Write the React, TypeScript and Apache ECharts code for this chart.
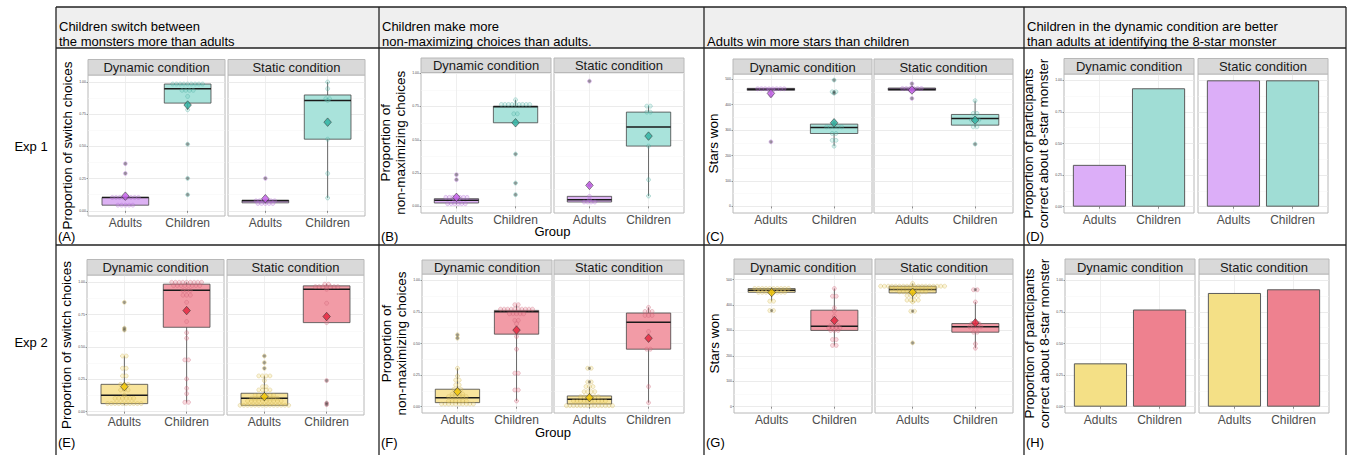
import React, { useEffect, useRef } from "react";
import * as echarts from "echarts";

const FONT = "'Liberation Sans', Arial, Helvetica, sans-serif";

// ---------- texts ----------
const groups = ["Adults", "Children"];
const conditions = ["Dynamic condition", "Static condition"];
const experiments = ["Exp 1", "Exp 2"];
const headerLines = [
  ["Children switch between", "the monsters more than adults"],
  ["Children make more", "non-maximizing choices than adults."],
  ["", "Adults win more stars than children"],
  ["Children in the dynamic condition are better", "than adults at identifying the 8-star monster"],
];
const panelLetters = ["(A)", "(B)", "(C)", "(D)", "(E)", "(F)", "(G)", "(H)"];
const yTitles = [
  "Proportion of switch choices",
  "Proportion of\nnon-maximizing choices",
  "Stars won",
  "Proportion of participants\ncorrect about 8-star monster",
];
const xTitle = "Group";

// ---------- tick values ----------
const propTicks = [0, 0.25, 0.5, 0.75, 1];
const propMinorTicks = [0.125, 0.375, 0.625, 0.875];
const starTicks = [0, 100, 200, 300, 400, 500];
const starMinorTicks = [50, 150, 250, 350, 450];

// ---------- data ----------
// boxes: [min, Q1, median, Q3, max] for [Adults, Children]
// dots: [value, number of participants at that value]
// (A) Exp 1, proportion of switch choices
const aDynBox = [[0.044, 0.044, 0.104, 0.104, 0.104], [0.784, 0.836, 0.948, 0.984, 0.984]];
const aDynMean = [0.114, 0.821];
const aDynDotsAdults = [[0.104, 8], [0.044, 5], [0.29, 1], [0.366, 1]];
const aDynDotsChildren = [[0.984, 9], [0.935, 4], [0.888, 1], [0.823, 1], [0.784, 1], [0.517, 1], [0.252, 1], [0.125, 1]];
const aStatBox = [[0.057, 0.062, 0.078, 0.083, 0.083], [0.1, 0.556, 0.857, 0.899, 1.0]];
const aStatMean = [0.094, 0.688];
const aStatDotsAdults = [[0.078, 6], [0.057, 5], [0.252, 1]];
const aStatDotsChildren = [[1.0, 1], [0.948, 1], [0.87, 2], [0.857, 1], [0.688, 1], [0.556, 1], [0.29, 1], [0.1, 1]];

// (B) Exp 1, proportion of non-maximizing choices
const bDynBox = [[0.02, 0.025, 0.045, 0.0575, 0.0675], [0.6275, 0.6275, 0.7475, 0.7525, 0.8]];
const bDynMean = [0.0675, 0.6275];
const bDynDotsAdults = [[0.0675, 7], [0.045, 2], [0.02, 6], [0.2, 1], [0.2375, 1]];
const bDynDotsChildren = [[0.8, 1], [0.765, 9], [0.695, 2], [0.6275, 1], [0.3925, 1], [0.175, 1], [0.0875, 1]];
const bStatBox = [[0.0325, 0.0325, 0.05, 0.075, 0.075], [0.0775, 0.4525, 0.595, 0.7075, 0.7525]];
const bStatMean = [0.1575, 0.5275];
const bStatDotsAdults = [[0.94, 1], [0.16, 1], [0.075, 1], [0.05, 1], [0.0325, 4]];
const bStatDotsChildren = [[0.7525, 2], [0.7075, 2], [0.52, 1], [0.4525, 1], [0.2, 1], [0.0775, 1]];

// (C) Exp 1, stars won
const cDynBox = [[436, 456.6, 460.5, 464.5, 464.5], [237, 286.8, 310.5, 323.7, 323.7]];
const cDynMean = [444.7, 329];
const cDynDotsAdults = [[463, 8], [457, 2], [436, 1], [254, 1]];
const cDynDotsChildren = [[497, 1], [451, 2], [445, 1], [329, 1], [313, 5], [287, 2], [260, 2], [237, 1]];
const cStatBox = [[456.6, 456.6, 460.5, 465.8, 465.8], [313, 319.7, 346, 361.8, 416]];
const cStatMean = [458, 339.5];
const cStatDotsAdults = [[483, 1], [464, 6], [457, 2], [425, 1]];
const cStatDotsChildren = [[416, 1], [366, 2], [340, 3], [313, 2], [245, 1]];

// (D) Exp 1, proportion correct about 8-star monster
const dDynBars = [0.331, 0.937];
const dStatBars = [1.0, 1.0];

// (E) Exp 2, proportion of switch choices
const eDynBox = [[0.049, 0.062, 0.126, 0.211, 0.43], [0.072, 0.652, 0.938, 0.985, 1.0]];
const eDynMean = [0.193, 0.781];
const eDynDotsAdults = [[0.845, 1], [0.645, 1], [0.63, 1], [0.43, 2], [0.335, 2], [0.276, 2], [0.211, 3], [0.167, 3], [0.126, 1], [0.103, 6], [0.062, 10]];
const eDynDotsChildren = [[1.0, 9], [0.974, 8], [0.936, 3], [0.9, 3], [0.845, 1], [0.696, 1], [0.61, 1], [0.567, 1], [0.4, 2], [0.253, 1], [0.18, 1], [0.139, 1], [0.072, 2]];
const eStatBox = [[0.049, 0.049, 0.103, 0.142, 0.276], [0.688, 0.688, 0.946, 0.972, 0.985]];
const eStatMean = [0.116, 0.735];
const eStatDotsAdults = [[0.43, 1], [0.379, 1], [0.335, 1], [0.276, 4], [0.24, 1], [0.193, 2], [0.168, 4], [0.124, 6], [0.103, 8], [0.082, 10], [0.049, 14]];
const eStatDotsChildren = [[0.985, 2], [0.966, 7], [0.946, 1], [0.838, 1], [0.688, 1], [0.24, 1], [0.067, 1], [0.054, 1]];

// (F) Exp 2, proportion of non-maximizing choices
const fDynBox = [[0.021, 0.032, 0.071, 0.138, 0.304], [0.045, 0.574, 0.751, 0.762, 0.807]];
const fDynMean = [0.119, 0.606];
const fDynDotsAdults = [[0.569, 1], [0.542, 1], [0.304, 1], [0.243, 1], [0.21, 2], [0.172, 2], [0.138, 3], [0.1, 4], [0.079, 6], [0.045, 6], [0.021, 10]];
const fDynDotsChildren = [[0.807, 2], [0.772, 10], [0.735, 5], [0.683, 2], [0.656, 1], [0.556, 1], [0.455, 1], [0.265, 2], [0.132, 2], [0.045, 1]];
const fStatBox = [[0.008, 0.021, 0.058, 0.085, 0.159], [0.032, 0.455, 0.669, 0.741, 0.786]];
const fStatMean = [0.071, 0.542];
const fStatDotsAdults = [[0.304, 2], [0.196, 2], [0.159, 3], [0.119, 4], [0.079, 6], [0.045, 10], [0.008, 14]];
const fStatDotsChildren = [[0.786, 1], [0.754, 3], [0.722, 3], [0.595, 1], [0.455, 2], [0.159, 1], [0.032, 1]];

// (G) Exp 2, stars won
const gDynBox = [[415, 450, 458, 464.7, 470], [241, 300, 316.8, 379.6, 465]];
const gDynMean = [449, 339];
const gDynDotsAdults = [[465, 10], [450, 8], [415, 2], [378, 2]];
const gDynDotsChildren = [[465, 1], [434.6, 2], [388.7, 1], [375.7, 1], [356, 1], [340, 1], [319, 3], [310, 4], [300, 3], [264, 2], [241, 2]];
const gStatBox = [[412, 447.6, 460.7, 473.8, 485], [230, 293, 314, 327, 412]];
const gStatMean = [450, 329.8];
const gStatDotsAdults = [[485, 1], [474, 18], [463, 12], [452, 8], [437, 4], [419, 4], [412, 1], [375.6, 2], [251, 1]];
const gStatDotsChildren = [[460, 2], [412, 1], [327, 3], [314, 4], [293, 2], [247, 1], [230, 1]];

// (H) Exp 2, proportion correct about 8-star monster
const hDynBars = [0.343, 0.769];
const hStatBars = [0.9, 0.929];

// ---------- styles ----------
const palette = [
  [
    { box: "#dcb1f3", dotFill: "rgba(205,140,235,0.35)", dotStroke: "rgba(165,95,205,0.6)", mean: "#c35ce8", bar: "#dcaef8" },
    { box: "#a9e3db", dotFill: "rgba(110,205,190,0.3)", dotStroke: "rgba(60,160,150,0.6)", mean: "#2fb3a3", bar: "#a0ddd5" },
  ],
  [
    { box: "#f8e49c", dotFill: "rgba(240,215,110,0.35)", dotStroke: "rgba(195,165,70,0.6)", mean: "#f2c500", bar: "#f4e086" },
    { box: "#f29ba6", dotFill: "rgba(235,125,145,0.35)", dotStroke: "rgba(195,90,110,0.6)", mean: "#e3213a", bar: "#ee818f" },
  ],
];

const panels = [
  { scale: "prop", facets: [
    { box: aDynBox, mean: aDynMean, dots: [aDynDotsAdults, aDynDotsChildren] },
    { box: aStatBox, mean: aStatMean, dots: [aStatDotsAdults, aStatDotsChildren] } ] },
  { scale: "prop", facets: [
    { box: bDynBox, mean: bDynMean, dots: [bDynDotsAdults, bDynDotsChildren] },
    { box: bStatBox, mean: bStatMean, dots: [bStatDotsAdults, bStatDotsChildren] } ] },
  { scale: "stars", facets: [
    { box: cDynBox, mean: cDynMean, dots: [cDynDotsAdults, cDynDotsChildren] },
    { box: cStatBox, mean: cStatMean, dots: [cStatDotsAdults, cStatDotsChildren] } ] },
  { scale: "prop", facets: [{ bars: dDynBars }, { bars: dStatBars }] },
  { scale: "prop", facets: [
    { box: eDynBox, mean: eDynMean, dots: [eDynDotsAdults, eDynDotsChildren] },
    { box: eStatBox, mean: eStatMean, dots: [eStatDotsAdults, eStatDotsChildren] } ] },
  { scale: "prop", facets: [
    { box: fDynBox, mean: fDynMean, dots: [fDynDotsAdults, fDynDotsChildren] },
    { box: fStatBox, mean: fStatMean, dots: [fStatDotsAdults, fStatDotsChildren] } ] },
  { scale: "stars", facets: [
    { box: gDynBox, mean: gDynMean, dots: [gDynDotsAdults, gDynDotsChildren] },
    { box: gStatBox, mean: gStatMean, dots: [gStatDotsAdults, gStatDotsChildren] } ] },
  { scale: "prop", facets: [{ bars: hDynBars }, { bars: hStatBars }] },
];

// ---------- layout ----------
const layouts = [
  { lefts: [88, 228], w: 137, top: 75, h: 141, stripTop: 59.5, yMin: -0.04, yMax: 1.054, gap: 11 },
  { lefts: [421, 554], w: 130, top: 72.5, h: 140.5, stripTop: 58, yMin: -0.05, yMax: 1.005, gap: 8 },
  { lefts: [733, 874], w: 139, top: 74, h: 139, stripTop: 59, yMin: -26, yMax: 521, gap: 8 },
  { lefts: [1064, 1198], w: 130, top: 74, h: 139, stripTop: 58.5, yMin: -0.05, yMax: 1.05, gap: 5.5 },
  { lefts: [87, 227], w: 137, top: 275, h: 140, stripTop: 259.5, yMin: -0.026, yMax: 1.056, gap: 11.5 },
  { lefts: [422, 554], w: 130, top: 274, h: 139, stripTop: 260, yMin: -0.05, yMax: 1.05, gap: 9.5 },
  { lefts: [734, 875], w: 138, top: 274, h: 139, stripTop: 259, yMin: -25, yMax: 522, gap: 8.5 },
  { lefts: [1065, 1199], w: 130, top: 274, h: 139, stripTop: 259, yMin: -0.05, yMax: 1.05, gap: 7.5 },
];
const colX = [56, 379, 704, 1024, 1346];
const tableTop = 7;
const headerBottom = 48;
const rowDivider = 245;
const tableBottom = 455;
const letterY = [236, 442];
const groupTitleY = [231, 432];

const DOT_STEP = 0.06;
const BOX_HALF = 0.375;

function dotPositions(rows: number[][], x: number) {
  const out: number[][] = [];
  rows.forEach(([v, n]) => {
    for (let i = 0; i < n; i++) out.push([x + (i - (n - 1) / 2) * DOT_STEP, v]);
  });
  return out;
}

function text(x: number, y: number, str: string, size: number, opts: any = {}) {
  return {
    type: "text",
    z: 20,
    style: {
      x, y, text: str,
      fontSize: size, fontFamily: FONT,
      fill: opts.fill || "#000",
      align: opts.align || "left", textAlign: opts.align || "left",
      verticalAlign: "middle", textVerticalAlign: "middle",
    },
  };
}

function buildOption() {
  const grids: any[] = [];
  const xAxes: any[] = [];
  const yAxes: any[] = [];
  const series: any[] = [];
  const graphics: any[] = [];

  // table
  graphics.push({ type: "rect", z: 0, shape: { x: colX[0], y: tableTop, width: colX[4] - colX[0], height: headerBottom - tableTop }, style: { fill: "#efefef" } });
  const lineStyle = { stroke: "#222", lineWidth: 1.3 };
  [tableTop, headerBottom, rowDivider].forEach((y) =>
    graphics.push({ type: "line", z: 1, shape: { x1: colX[0], y1: y, x2: colX[4], y2: y }, style: lineStyle }));
  colX.forEach((x) =>
    graphics.push({ type: "line", z: 1, shape: { x1: x, y1: tableTop, x2: x, y2: tableBottom }, style: lineStyle }));
  headerLines.forEach((lines, c) => {
    lines.forEach((ln, k) => { if (ln) graphics.push(text(colX[c] + 3, k === 0 ? 26 : 41, ln, 13)); });
  });
  experiments.forEach((e, r) => graphics.push(text(31, r === 0 ? 146 : 342, e, 13, { align: "center" })));

  panels.forEach((p, pi) => {
    const L = layouts[pi];
    const col = pi % 4;
    const row = Math.floor(pi / 4);
    const pal = palette[row];
    const ticks = p.scale === "stars" ? starTicks : propTicks;
    const minor = p.scale === "stars" ? starMinorTicks : propMinorTicks;

    graphics.push(text(colX[col] + 2, letterY[row], panelLetters[pi], 13));
    if (col === 1) graphics.push(text(L.lefts[0] + (L.lefts[1] + L.w - L.lefts[0]) / 2, groupTitleY[row], xTitle, 13, { align: "center" }));

    p.facets.forEach((f: any, fi: number) => {
      const g = grids.length;
      const left = L.lefts[fi];
      grids.push({ left, top: L.top, width: L.w, height: L.h, show: true, borderColor: "#b8b8b8", borderWidth: 1, backgroundColor: "#fff" });
      xAxes.push({
        type: "value", gridIndex: g, min: 0.4, max: 2.6,
        axisLine: { show: false },
        axisTick: { show: true, length: 2, customValues: [1, 2], lineStyle: { color: "#444", width: 0.6 } },
        axisLabel: { customValues: [1, 2], formatter: (v: number) => groups[Math.round(v) - 1], fontSize: 12, fontFamily: FONT, color: "#4d4d4d", margin: 1 },
        splitLine: { show: true, lineStyle: { color: "#ebebeb", width: 0.8 } },
      });
      const first = fi === 0;
      yAxes.push({
        type: "value", gridIndex: g, min: L.yMin, max: L.yMax, position: "left",
        axisLine: { show: false },
        axisTick: { show: first, length: 1.5, customValues: ticks, lineStyle: { color: "#444", width: 0.5 } },
        axisLabel: {
          show: first, customValues: ticks, fontSize: 3.5, fontFamily: FONT, color: "#4d4d4d", margin: 2,
          formatter: (v: number) => (p.scale === "stars" ? String(v) : v.toFixed(2)),
        },
        splitLine: { show: true, lineStyle: { color: "#e6e6e6", width: 0.8 } },
        name: first ? yTitles[col] : "",
        nameLocation: "middle", nameRotate: 90, nameGap: L.gap,
        nameTextStyle: { fontSize: 13.5, fontFamily: FONT, color: "#000", lineHeight: 15 },
      });
      yAxes.push({
        type: "value", gridIndex: g, min: L.yMin, max: L.yMax, position: "left",
        axisLine: { show: false },
        axisTick: { show: false, customValues: minor },
        axisLabel: { show: false, customValues: minor },
        splitLine: { show: true, lineStyle: { color: "#f4f4f4", width: 0.5 } },
      });
      const yIdx = 2 * g;

      // strip
      graphics.push({ type: "rect", z: 10, shape: { x: left, y: L.stripTop, width: L.w, height: L.top - L.stripTop }, style: { fill: "#d9d9d9", stroke: "#b8b8b8", lineWidth: 1 } });
      graphics.push({ ...text(left + L.w / 2, (L.stripTop + L.top) / 2 + 0.5, conditions[fi], 13, { align: "center", fill: "#1a1a1a" }), z: 11 });

      if (f.bars) {
        series.push({
          type: "bar", xAxisIndex: g, yAxisIndex: yIdx, barWidth: (0.9 * L.w) / 2.2, z: 3,
          data: f.bars.map((v: number, i: number) => ({
            value: [i + 1, v],
            itemStyle: { color: pal[i].bar, borderColor: "#5a5a5a", borderWidth: 1 },
          })),
        });
        return;
      }

      series.push({
        type: "custom", xAxisIndex: g, yAxisIndex: yIdx, z: 3, clip: false,
        encode: { x: 0, y: [1, 2, 3, 4, 5] },
        data: f.box.map((b: number[], i: number) => [i + 1, ...b]),
        renderItem: (params: any, api: any) => {
          const x = api.value(0);
          const v = [1, 2, 3, 4, 5].map((k) => api.value(k));
          const c = (val: number) => api.coord([x, val]);
          const pMin = c(v[0]), pQ1 = c(v[1]), pMed = c(v[2]), pQ3 = c(v[3]), pMax = c(v[4]);
          const xl = api.coord([x - BOX_HALF, v[2]])[0];
          const xr = api.coord([x + BOX_HALF, v[2]])[0];
          const stroke = "rgba(70,70,70,0.8)";
          return {
            type: "group",
            children: [
              { type: "line", shape: { x1: pMin[0], y1: pMin[1], x2: pQ1[0], y2: pQ1[1] }, style: { stroke, lineWidth: 1 } },
              { type: "line", shape: { x1: pQ3[0], y1: pQ3[1], x2: pMax[0], y2: pMax[1] }, style: { stroke, lineWidth: 1 } },
              { type: "rect", shape: { x: xl, y: pQ3[1], width: xr - xl, height: Math.max(pQ1[1] - pQ3[1], 0.5) }, style: { fill: pal[x - 1].box, stroke, lineWidth: 1 } },
              { type: "line", shape: { x1: xl, y1: pMed[1], x2: xr, y2: pMed[1] }, style: { stroke: "#1a1a1a", lineWidth: 1.5 } },
            ],
          };
        },
      });

      f.dots.forEach((rows: number[][], gi: number) => {
        series.push({
          type: "scatter", xAxisIndex: g, yAxisIndex: yIdx, z: 4, symbol: "circle", symbolSize: 4,
          itemStyle: { color: pal[gi].dotFill, borderColor: pal[gi].dotStroke, borderWidth: 0.6 },
          data: dotPositions(rows, gi + 1),
        });
        const lo = f.box[gi][0], hi = f.box[gi][4];
        series.push({
          type: "scatter", xAxisIndex: g, yAxisIndex: yIdx, z: 5, symbol: "circle", symbolSize: 3.2,
          itemStyle: { color: "rgba(45,45,45,0.55)" },
          data: rows.filter(([v]) => v < lo || v > hi).map(([v]) => [gi + 1, v]),
        });
      });

      series.push({
        type: "scatter", xAxisIndex: g, yAxisIndex: yIdx, z: 6, symbol: "diamond", symbolSize: [7.5, 8.5],
        data: f.mean.map((m: number, i: number) => ({
          value: [i + 1, m],
          itemStyle: { color: pal[i].mean, borderColor: "#333", borderWidth: 0.7 },
        })),
      });
    });
  });

  return {
    animation: false,
    backgroundColor: "#fff",
    textStyle: { fontFamily: FONT },
    grid: grids,
    xAxis: xAxes,
    yAxis: yAxes,
    series,
    graphic: { elements: graphics },
  };
}

export default function App() {
  const ref = useRef<HTMLDivElement>(null);
  useEffect(() => {
    const chart = echarts.init(ref.current as HTMLDivElement, undefined, { renderer: "svg" });
    chart.setOption(buildOption() as any);
    return () => chart.dispose();
  }, []);
  return (
    <div
      ref={ref}
      style={{ position: "absolute", left: 0, top: 0, width: 1348, height: 455, background: "#fff" }}
    />
  );
}
